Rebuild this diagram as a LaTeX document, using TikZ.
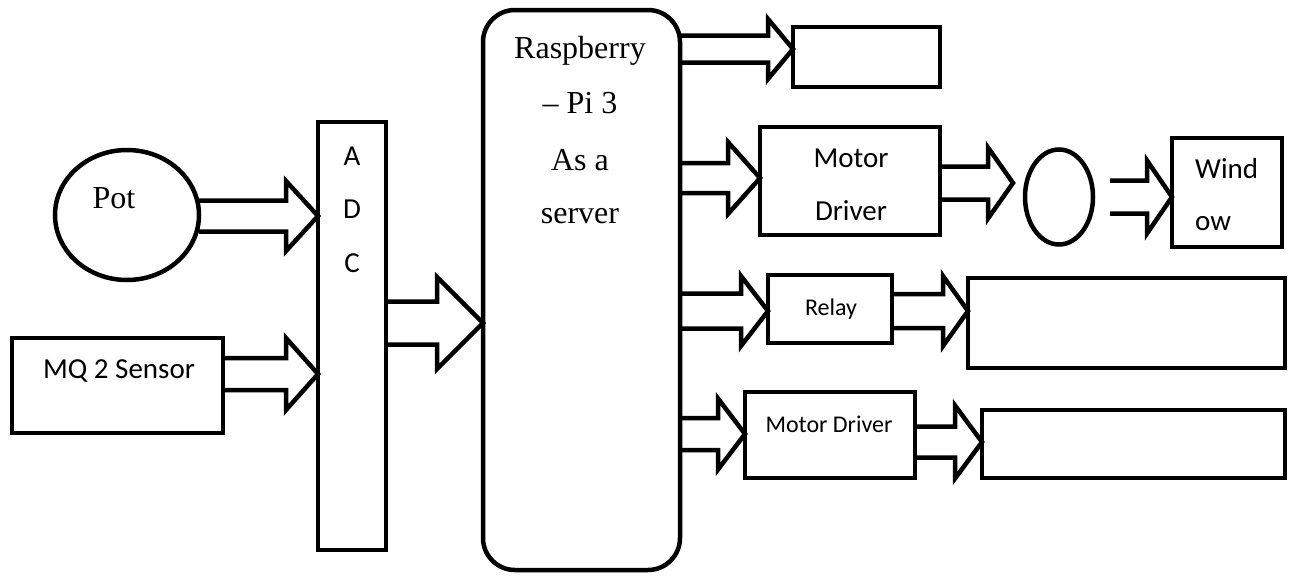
\documentclass[tikz,border=0pt]{standalone}
\usepackage{fontspec}
\setmainfont{Liberation Serif}
\newfontfamily\calibri{Carlito}
\usetikzlibrary{shapes.geometric,calc}
\tikzset{
  box/.style={draw, line width=4.5pt, inner sep=0pt, outer sep=0pt, anchor=north west, fill=white},
  oval/.style={draw, ellipse, line width=4.5pt, inner sep=0pt, outer sep=0pt, fill=white},
  blk/.style={draw, line width=4.5pt, line join=miter},
  sertext/.style={font=\fontsize{32}{36}\selectfont, anchor=base, inner sep=0pt},
  santext/.style={font=\calibri\fontsize{29}{34}\selectfont, anchor=base, inner sep=0pt},
  smalltext/.style={font=\calibri\fontsize{24}{29}\selectfont, anchor=base, inner sep=0pt},
}
% block arrow: tail node anchor, tip node anchor, centre y, shaft half, head half, head length
\newcommand{\barrow}[6]{%
  \coordinate (bT) at (#1 |- 0,#3);
  \coordinate (bH) at (#2 |- 0,#3);
  \draw[blk] ($(bT)+(0,-#4)$) -- ($(bH)+(-#6,-#4)$) -- ($(bH)+(-#6,-#5)$) -- (bH)
    -- ($(bH)+(-#6,#5)$) -- ($(bH)+(-#6,#4)$) -- ($(bT)+(0,#4)$);
}
\begin{document}
\begin{tikzpicture}[x=1pt,y=-1pt]
\useasboundingbox[fill=white] (0,0) rectangle (1291,576);

% nodes
\node[oval, minimum width=144pt, minimum height=130pt] (pot) at (127,215) {};
\node[box, minimum width=211pt, minimum height=95pt] (mq) at (12,338) {};
\node[box, minimum width=68pt, minimum height=428pt] (adc) at (318,122) {};
\node[box, rounded corners=32pt, minimum width=197pt, minimum height=560pt] (pi) at (483,10) {};
\node[box, minimum width=147pt, minimum height=60pt] (top) at (793,27) {};
\node[box, minimum width=180pt, minimum height=108pt] (md1) at (760,127) {};
\node[oval, minimum width=68pt, minimum height=95pt] (ell2) at (1059,197) {};
\node[box, minimum width=110pt, minimum height=109pt] (win) at (1172,138) {};
\node[box, minimum width=124pt, minimum height=68pt] (relay) at (768,275) {};
\node[box, minimum width=317pt, minimum height=90pt] (big1) at (968,278) {};
\node[box, minimum width=170pt, minimum height=86pt] (md2) at (745,392) {};
\node[box, minimum width=303pt, minimum height=68pt] (big2) at (982,410) {};

% texts
\node[sertext] (tpot) at (114,208) {Pot};
\node[santext] (tmq) at (119,378) {MQ 2 Sensor};
\node[santext] (ta) at (352,165) {A};
\node[santext] (td) at (352,218) {D};
\node[santext] (tc) at (352,272) {C};
\node[sertext] (tp1) at (580,58) {Raspberry};
\node[sertext] (tp2) at (580,113) {– Pi 3};
\node[sertext] (tp3) at (580,170) {As a};
\node[sertext] (tp4) at (580,223) {server};
\node[santext] (tm1) at (851,167) {Motor};
\node[santext] (tm2) at (851,220) {Driver};
\node[smalltext] (trel) at (831,315) {Relay};
\node[smalltext] (tmd2) at (829,432) {Motor Driver};
\node[santext, anchor=base west] (tw1) at (1195,178) {Wind};
\node[santext, anchor=base west] (tw2) at (1195,230) {ow};

% helper coordinates for gaps
\coordinate (ell2tip) at ($(ell2.west)+(-12,0)$);
\coordinate (ell2tail) at ($(ell2.east)+(17,0)$);

% arrows
\barrow{pot.east}{adc.west}{216}{15.5}{35}{32}
\barrow{mq.east}{adc.west}{374}{16}{36}{32}
\barrow{adc.east}{pi.west}{323}{21.5}{46}{46}
\barrow{pi.east}{top.west}{49}{13.5}{30}{25}
\barrow{pi.east}{md1.west}{178}{15}{36}{32}
\barrow{md1.east}{ell2tip}{183}{16.5}{35.5}{25}
\barrow{ell2tail}{win.west}{197}{16.5}{36.5}{25}
\barrow{pi.east}{relay.west}{311}{17.5}{35}{27}
\barrow{relay.east}{big1.west}{311}{17}{35}{25}
\barrow{pi.east}{md2.west}{434}{16}{35.5}{27}
\barrow{md2.east}{big2.west}{442}{15.5}{36.5}{27}
\end{tikzpicture}
\end{document}
